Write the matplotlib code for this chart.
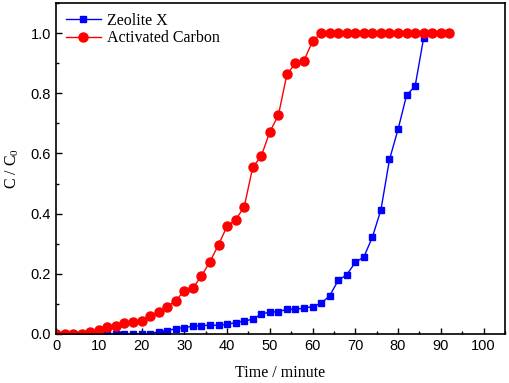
import numpy as np
import matplotlib
matplotlib.use('Agg')
from matplotlib import pyplot as plt
from matplotlib.ticker import MultipleLocator, FormatStrFormatter

time = list(range(0, 94, 2))

zeolite = [0, 0, 0, 0, 0, 0, 0, 0, 0, 0, 0, 0, 0.008, 0.011, 0.018, 0.021,
           0.026, 0.028, 0.029, 0.029, 0.032, 0.038, 0.043, 0.049, 0.066,
           0.073, 0.074, 0.082, 0.082, 0.086, 0.091, 0.102, 0.127, 0.178,
           0.197, 0.238, 0.256, 0.322, 0.413, 0.58, 0.68, 0.794, 0.824,
           0.985, 1.0, 1.0, 1.0]

carbon = [0, 0, 0, 0, 0.005, 0.014, 0.024, 0.027, 0.036, 0.039, 0.044,
          0.06, 0.072, 0.091, 0.111, 0.144, 0.152, 0.193, 0.24, 0.297,
          0.358, 0.38, 0.422, 0.554, 0.591, 0.672, 0.727, 0.863, 0.9,
          0.909, 0.973, 1.0, 1.0, 1.0, 1.0, 1.0, 1.0, 1.0, 1.0, 1.0, 1.0,
          1.0, 1.0, 1.0, 1.0, 1.0, 1.0]

serif = 'Liberation Serif'
sans = 'Liberation Sans'
plt.rcParams['mathtext.fontset'] = 'custom'
plt.rcParams['mathtext.rm'] = serif
plt.rcParams['mathtext.it'] = serif

fig = plt.figure(figsize=(5.1, 3.83), dpi=100)
ax = fig.add_axes([0.11, 0.128, 0.88, 0.864])

ax.plot(time, zeolite, color='#0000ff', marker='s', markersize=5,
        linewidth=1, label='Zeolite X')
ax.plot(time, carbon, color='#ff0000', marker='o', markersize=6.5,
        linewidth=1, label='Activated Carbon')

ax.set_xlim(0, 105)
ax.set_ylim(0, 1.1)
ax.xaxis.set_major_locator(MultipleLocator(10))
ax.xaxis.set_minor_locator(MultipleLocator(5))
ax.yaxis.set_major_locator(MultipleLocator(0.2))
ax.yaxis.set_minor_locator(MultipleLocator(0.1))
ax.yaxis.set_major_formatter(FormatStrFormatter('%.1f'))
ax.tick_params(which='both', direction='in', labelsize=10.5)
ax.tick_params(which='major', length=4, width=1)
ax.tick_params(which='minor', length=2, width=1)
for lab in ax.get_xticklabels() + ax.get_yticklabels():
    lab.set_fontfamily(sans)
for sp in ax.spines.values():
    sp.set_linewidth(1.2)

ax.set_xlabel('Time / minute', fontfamily=serif, fontsize=11.5, labelpad=9)
ax.set_ylabel('C / C$_0$', fontfamily=serif, fontsize=11.5, labelpad=7)

ax.legend(loc='upper left', frameon=False, prop={'family': serif, 'size': 11.5},
          handlelength=2.2, handletextpad=0.4, borderaxespad=0.2,
          labelspacing=0.1)

fig.savefig('out.png', dpi=100)
